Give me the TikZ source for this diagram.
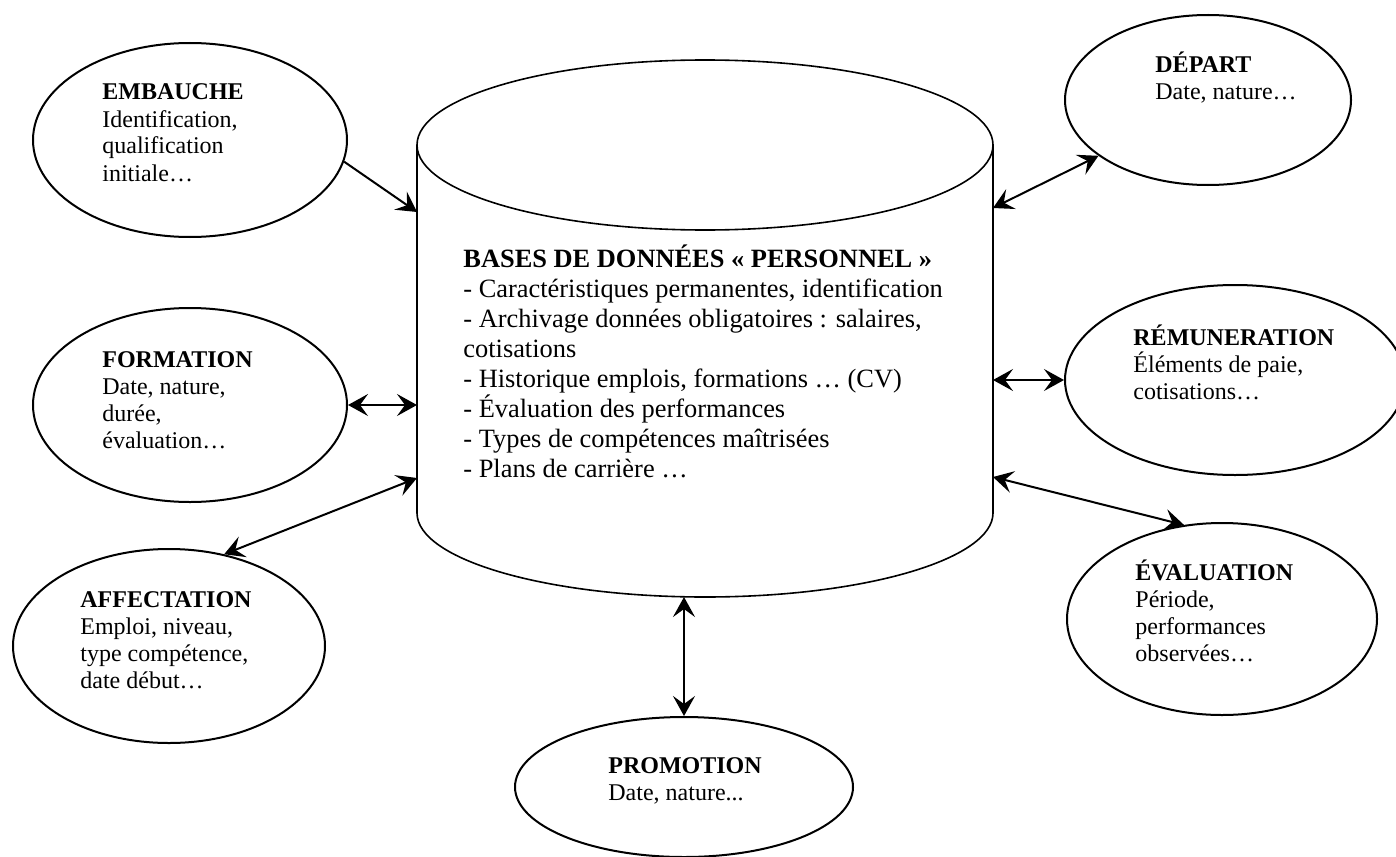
\documentclass[tikz,border=0pt]{standalone}
\usepackage{fontspec}
\setmainfont{Liberation Serif}
\usetikzlibrary{shapes.geometric,arrows.meta}
\begin{document}
\begin{tikzpicture}[x=0.5pt,y=-0.5pt,
  bubble/.style={ellipse, draw, line width=1pt, inner sep=0pt},
  txt/.style={anchor=base west, inner sep=0pt, align=left, font=\fontsize{12}{13.5}\selectfont},
  bigtxt/.style={anchor=base west, inner sep=0pt, align=left, font=\fontsize{13.2}{15}\selectfont},
  link/.style={line width=1pt, {Stealth[length=10pt,width=11pt,inset=4pt]}-{Stealth[length=10pt,width=11pt,inset=4pt]}},
  onelink/.style={line width=1pt, -{Stealth[length=10pt,width=11pt,inset=4pt]}}]
\useasboundingbox (0,0) rectangle (1396,856);
\draw[line width=0.8pt] (417,145) -- (417,513) arc[start angle=180, end angle=0, x radius=288, y radius=84] -- (993,145);
\draw[line width=0.8pt] (705,145) ellipse [x radius=288, y radius=85];
\node[bigtxt] (bdd) at (463,477) {\textbf{BASES DE DONNÉES « PERSONNEL »}\\- Caractéristiques permanentes, identification\\- Archivage données obligatoires : salaires,\\cotisations\\- Historique emplois, formations … (CV)\\- Évaluation des performances\\- Types de compétences maîtrisées\\- Plans de carrière …};
\coordinate (cE) at (417,212);
\coordinate (cF) at (417,405);
\coordinate (cA) at (417,478);
\coordinate (cP) at (684,597);
\coordinate (cV) at (993,477);
\coordinate (cR) at (993,380);
\coordinate (cD) at (993,208);
\node[bubble, minimum width=157pt, minimum height=97pt] (embauche) at (190,140) {};
\node[txt] (embauche-t) at (102,181) {\textbf{EMBAUCHE}\\Identification,\\qualification\\initiale…};
\node[bubble, minimum width=157pt, minimum height=97pt] (formation) at (190,405) {};
\node[txt] (formation-t) at (102,448) {\textbf{FORMATION}\\Date, nature,\\durée,\\évaluation…};
\node[bubble, minimum width=156pt, minimum height=97pt] (affectation) at (169,646) {};
\node[txt] (affectation-t) at (80,688) {\textbf{AFFECTATION}\\Emploi, niveau,\\type compétence,\\date début…};
\node[bubble, minimum width=169pt, minimum height=70pt] (promotion) at (684,787) {};
\node[txt] (promotion-t) at (608,800) {\textbf{PROMOTION}\\Date, nature...};
\node[bubble, minimum width=155pt, minimum height=96pt] (evaluation) at (1222,619) {};
\node[txt] (evaluation-t) at (1135,661) {\textbf{ÉVALUATION}\\Période,\\performances\\observées…};
\node[bubble, minimum width=170pt, minimum height=95pt] (remuneration) at (1235,380) {};
\node[txt] (remuneration-t) at (1133,399) {\textbf{RÉMUNERATION}\\Éléments de paie,\\cotisations…};
\node[bubble, minimum width=143pt, minimum height=85pt] (depart) at (1208,100) {};
\node[txt] (depart-t) at (1155,100) {\textbf{DÉPART}\\Date, nature…};
\draw[onelink] (embauche.-8) -- (cE);
\draw[link] (formation.east) -- (cF);
\draw[link] (affectation.59) -- (cA);
\draw[link] (promotion.north) -- (cP);
\draw[link] (evaluation.112) -- (cV);
\draw[link] (remuneration.west) -- (cR);
\draw[link] (depart.207) -- (cD);
\end{tikzpicture}
\end{document}
